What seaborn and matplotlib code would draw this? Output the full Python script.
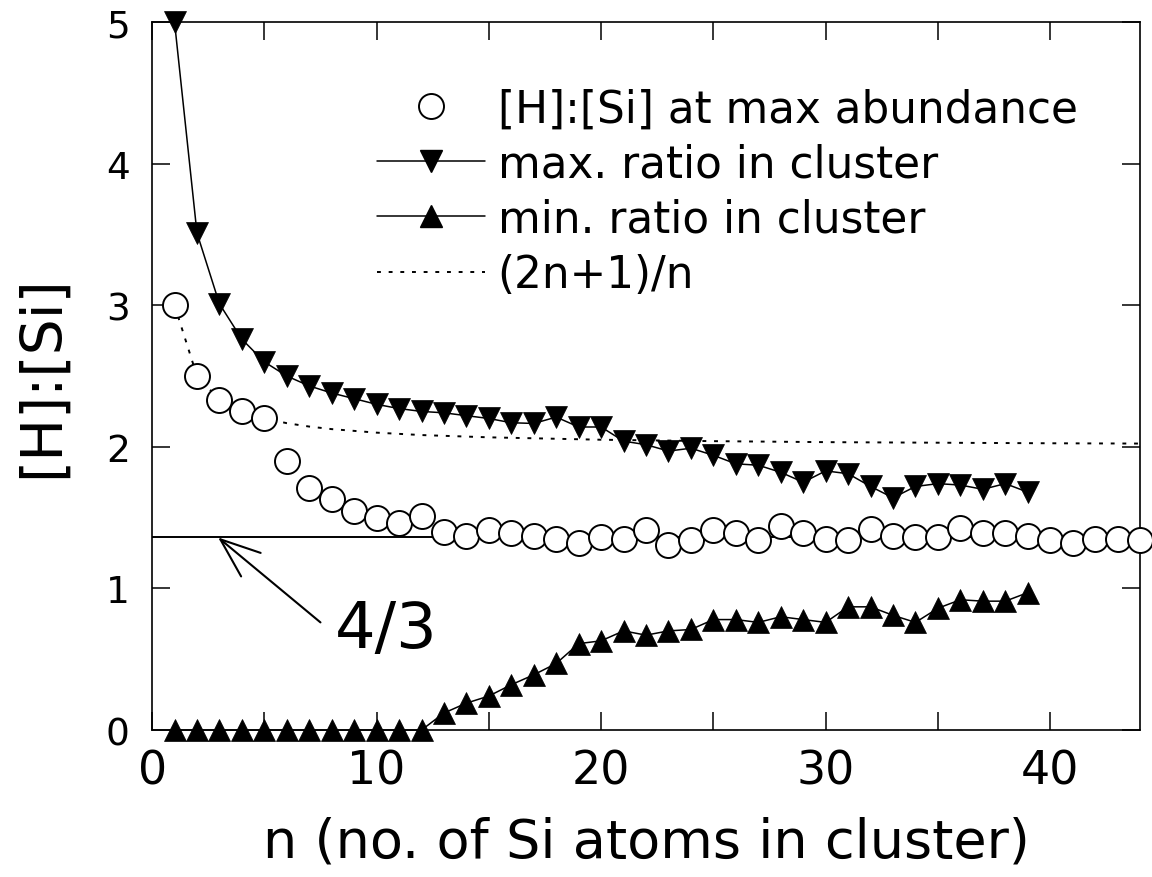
import numpy as np
import pandas as pd
import matplotlib
matplotlib.use("Agg")
import matplotlib.pyplot as plt
from matplotlib.lines import Line2D
from matplotlib.ticker import MultipleLocator
import seaborn as sns

# ---------------- data ----------------
n_abund = list(range(1, 45))
ratio_abund = [3.00, 2.50, 2.33, 2.25, 2.20, 1.90, 1.71, 1.63, 1.55, 1.50,
               1.46, 1.51, 1.40, 1.37, 1.41, 1.39, 1.37, 1.35, 1.32, 1.36,
               1.35, 1.41, 1.31, 1.34, 1.41, 1.39, 1.34, 1.44, 1.39, 1.35,
               1.34, 1.42, 1.37, 1.36, 1.36, 1.43, 1.39, 1.39, 1.37, 1.34,
               1.32, 1.35, 1.35, 1.34]

n_range = list(range(1, 40))
ratio_max = [5.00, 3.51, 3.01, 2.76, 2.60, 2.50, 2.43, 2.38, 2.34, 2.30,
             2.27, 2.25, 2.24, 2.22, 2.20, 2.17, 2.165, 2.21, 2.14, 2.14,
             2.04, 2.015, 1.97, 1.99, 1.94, 1.88, 1.87, 1.82, 1.75, 1.83,
             1.81, 1.72, 1.64, 1.72, 1.74, 1.73, 1.70, 1.74, 1.68]
ratio_min = [0, 0, 0, 0, 0, 0, 0, 0, 0, 0,
             0, 0, 0.12, 0.19, 0.24, 0.32, 0.39, 0.47, 0.61, 0.63,
             0.70, 0.67, 0.70, 0.71, 0.78, 0.78, 0.76, 0.80, 0.78, 0.76,
             0.87, 0.87, 0.81, 0.76, 0.86, 0.92, 0.91, 0.91, 0.97]

n_curve = [1, 2, 3, 4, 5, 6, 7, 8, 10, 12, 15, 20, 25, 30, 35, 40, 44]
ratio_curve = [3.0, 2.5, 2.333, 2.25, 2.2, 2.167, 2.143, 2.125, 2.1, 2.083,
               2.067, 2.05, 2.04, 2.033, 2.029, 2.025, 2.023]

ref_level = 1.36          # drawn "4/3" reference line (as placed in the figure)
ref_label = "4/3"

legend_labels = ["[H]:[Si] at max abundance", "max. ratio in cluster",
                 "min. ratio in cluster", "(2n+1)/n"]
x_label = "n (no. of Si atoms in cluster)"
y_label = "[H]:[Si]"

# ---------------- styling ----------------
sns.set_theme(style="ticks")
plt.rcParams["font.family"] = ["DejaVu Sans"]
for key in ["text.color", "axes.labelcolor", "xtick.color", "ytick.color",
            "axes.edgecolor"]:
    plt.rcParams[key] = "black"

fig = plt.figure(figsize=(11.52, 8.78), dpi=100)
ax = fig.add_axes([0.132, 0.1674, 0.8576, 0.8064])

df_ab = pd.DataFrame({"n": n_abund, "r": ratio_abund})
df_rng = pd.DataFrame({"n": n_range, "rmax": ratio_max, "rmin": ratio_min})
df_cv = pd.DataFrame({"n": n_curve, "r": ratio_curve})

# dotted (2n+1)/n curve
sns.lineplot(data=df_cv, x="n", y="r", ax=ax, color="black", linewidth=1.4,
             linestyle=(0, (2, 4)), zorder=2, clip_on=False)
# 4/3 reference line
ax.axhline(ref_level, color="black", linewidth=1.4, zorder=2)

# max / min ratio lines with triangles
sns.lineplot(data=df_rng, x="n", y="rmax", ax=ax, color="black", linewidth=1.1,
             marker="v", markersize=16, markeredgecolor="black",
             markerfacecolor="black", markeredgewidth=0.5, zorder=4, clip_on=False)
sns.lineplot(data=df_rng, x="n", y="rmin", ax=ax, color="black", linewidth=1.1,
             marker="^", markersize=16, markeredgecolor="black",
             markerfacecolor="black", markeredgewidth=0.5, zorder=4, clip_on=False)

# open circles
sns.scatterplot(data=df_ab, x="n", y="r", ax=ax, marker="o", s=18 ** 2,
                facecolor="white", edgecolor="black", linewidth=1.4,
                zorder=5, clip_on=False)

ax.set_xlim(0, 44)
ax.set_ylim(0, 5)

# ticks
ax.xaxis.set_major_locator(MultipleLocator(10))
ax.xaxis.set_minor_locator(MultipleLocator(5))
ax.yaxis.set_major_locator(MultipleLocator(1))
ax.tick_params(axis="both", which="both", direction="in", top=True, right=True,
               length=13, width=1.1, color="black")
ax.tick_params(axis="x", which="major", labelsize=33, pad=13)
ax.tick_params(axis="y", which="major", labelsize=27, pad=16)
for sp in ax.spines.values():
    sp.set_linewidth(1.2)
    sp.set_color("black")
    sp.set_visible(True)

ax.set_xlabel(x_label, fontsize=39, labelpad=16)
ax.set_ylabel(y_label, fontsize=41, labelpad=26)

# annotation "4/3" with open arrow
ax.annotate("", xy=(2.94, ref_level), xytext=(7.5, 0.76),
            arrowprops=dict(arrowstyle="->,head_length=1.3,head_width=0.5",
                            color="black", linewidth=1.5, mutation_scale=22,
                            shrinkA=0, shrinkB=0))
ax.text(10.45, 0.71, ref_label, fontsize=46, ha="center", va="center")

# legend
handles = [
    Line2D([], [], linestyle="none", marker="o", markersize=18,
           markerfacecolor="white", markeredgecolor="black", markeredgewidth=1.4),
    Line2D([], [], color="black", linewidth=1.1, marker="v", markersize=16,
           markerfacecolor="black", markeredgecolor="black"),
    Line2D([], [], color="black", linewidth=1.1, marker="^", markersize=16,
           markerfacecolor="black", markeredgecolor="black"),
    Line2D([], [], color="black", linewidth=1.4, linestyle=(0, (2, 4))),
]
ax.legend(handles, legend_labels, loc="upper left", bbox_to_anchor=(0.228, 0.908),
          frameon=False, fontsize=31.5, handlelength=2.45, handletextpad=0.3,
          labelspacing=0.28, borderaxespad=0, borderpad=0)

fig.savefig("out.png", dpi=100, facecolor="white")
